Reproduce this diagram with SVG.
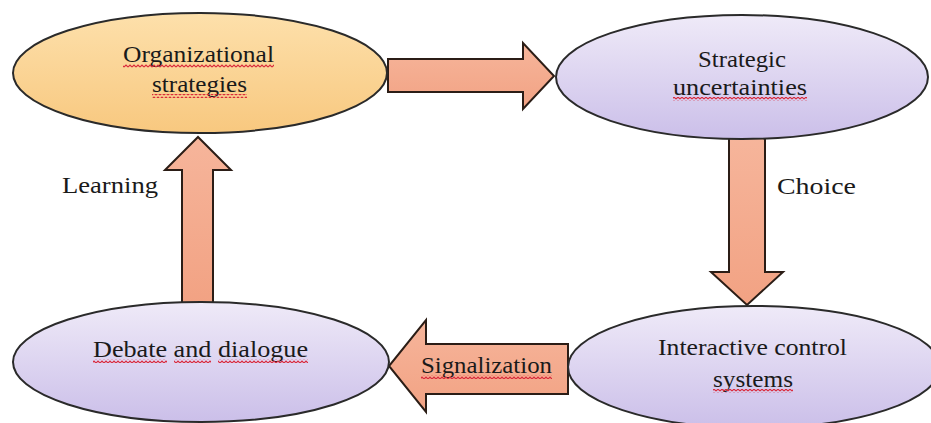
<svg xmlns="http://www.w3.org/2000/svg" width="931" height="423" viewBox="0 0 931 423">
<style>
.node-o{fill:url(#gO);stroke:#2a2a2a;stroke-width:2}
.node-p{fill:url(#gP);stroke:#2a2a2a;stroke-width:2}
.arrow{fill:url(#gA);stroke:#2b1d16;stroke-width:2;stroke-linejoin:miter}
.t{font-family:'Liberation Serif','DejaVu Serif',serif;font-size:24px;fill:#1a1a1a}
.c{text-anchor:middle}
.sq{fill:url(#wave)}
</style>
<defs>
<linearGradient id="gO" x1="0" y1="0" x2="0" y2="1">
<stop offset="0" stop-color="#fde0ab"/>
<stop offset="1" stop-color="#f8c87f"/>
</linearGradient>
<linearGradient id="gP" x1="0" y1="0" x2="0" y2="1">
<stop offset="0" stop-color="#efeaf8"/>
<stop offset="1" stop-color="#cbbfe9"/>
</linearGradient>
<linearGradient id="gA" x1="0" y1="0" x2="0" y2="1">
<stop offset="0" stop-color="#f6b59b"/>
<stop offset="1" stop-color="#f2a283"/>
</linearGradient>
<pattern id="wave" width="4" height="4" patternUnits="userSpaceOnUse">
<path d="M0 3 L2 1 L4 3" fill="none" stroke="#d9283a" stroke-width="1.1"/>
</pattern>
</defs>
<rect width="931" height="423" fill="#ffffff"/>
<g id="connectors">
<path class="arrow" d="M388 59 H523 V43 L554 76 L523 109 V92 H388 Z"/>
<path class="arrow" d="M729 137 V272 H711 L747 305 L783 272 H765 V137 Z"/>
<path class="arrow" d="M568 344 H426 V320 L389 366 L426 412 V394 H568 Z"/>
<path class="arrow" d="M182 303 V170 H165 L198 137 L231 170 H213 V303 Z"/>
<text class="t" x="62" y="193" textLength="96" lengthAdjust="spacingAndGlyphs">Learning</text>
<text class="t" x="777" y="194" textLength="79" lengthAdjust="spacingAndGlyphs">Choice</text>
<text class="t c" x="486.5" y="373" textLength="131" lengthAdjust="spacingAndGlyphs">Signalization</text>
<rect class="sq" x="421" y="375" width="131" height="4"/>
</g>
<g id="organizational-strategies">
<ellipse class="node-o" cx="200" cy="73" rx="187" ry="60"/>
<text class="t c" x="198.5" y="62" textLength="151" lengthAdjust="spacingAndGlyphs">Organizational</text>
<text class="t c" x="199.5" y="92" textLength="95" lengthAdjust="spacingAndGlyphs">strategies</text>
<rect class="sq" x="123" y="64" width="151" height="4"/>
<rect class="sq" x="152" y="94" width="95" height="4"/>
</g>
<g id="strategic-uncertainties">
<ellipse class="node-p" cx="742" cy="77" rx="186" ry="62"/>
<text class="t c" x="742" y="67" textLength="88" lengthAdjust="spacingAndGlyphs">Strategic</text>
<text class="t c" x="740" y="95" textLength="134" lengthAdjust="spacingAndGlyphs">uncertainties</text>
<rect class="sq" x="673" y="97" width="134" height="4"/>
</g>
<g id="interactive-control-systems">
<ellipse class="node-p" cx="754" cy="367" rx="186" ry="61"/>
<text class="t c" x="752.5" y="355" textLength="189" lengthAdjust="spacingAndGlyphs">Interactive control</text>
<text class="t c" x="753" y="387" textLength="80" lengthAdjust="spacingAndGlyphs">systems</text>
<rect class="sq" x="713" y="389" width="80" height="4"/>
</g>
<g id="debate-and-dialogue">
<ellipse class="node-p" cx="201" cy="362" rx="188" ry="60"/>
<text class="t c" x="200.5" y="357" textLength="215" lengthAdjust="spacingAndGlyphs">Debate and dialogue</text>
<rect class="sq" x="93" y="359" width="74" height="4"/>
<rect class="sq" x="174" y="359" width="37" height="4"/>
<rect class="sq" x="218" y="359" width="90" height="4"/>
</g>
</svg>
